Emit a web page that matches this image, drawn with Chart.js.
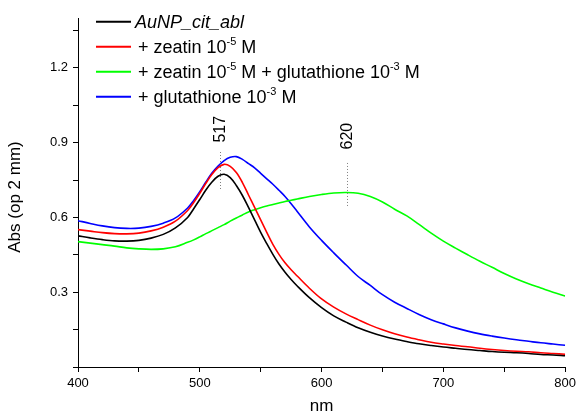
<!DOCTYPE html>
<html><head><meta charset="utf-8">
<script src="https://cdn.jsdelivr.net/npm/chart.js@4.4.0/dist/chart.umd.min.js"></script>
<style>html,body{margin:0;padding:0;background:#fff}canvas{display:block}</style>
</head><body>
<canvas id="c" width="580" height="417"></canvas>
<script>
const wavelengths = [400,410,420,430,440,450,460,470,480,490,495,500,505,510,515,520,525,530,535,540,545,550,555,560,565,570,575,580,590,600,610,620,630,640,650,660,670,680,690,700,710,720,730,740,750,760,770,780,790,800];
const ablSeries = [.526,.518,.511,.506,.505,.508,.517,.532,.558,.60,.635,.672,.71,.742,.765,.773,.76,.728,.688,.64,.59,.54,.495,.452,.413,.38,.351,.325,.278,.238,.205,.18,.157,.139,.124,.112,.102,.093,.086,.08,.075,.07,.066,.062,.059,.057,.054,.05,.048,.045];
const zeatinSeries = [.551,.545,.539,.535,.534,.537,.546,.561,.585,.628,.66,.697,.737,.773,.80,.813,.805,.78,.74,.69,.64,.59,.54,.492,.452,.418,.39,.365,.316,.273,.24,.213,.19,.168,.149,.133,.12,.109,.099,.092,.086,.081,.075,.07,.066,.063,.061,.057,.054,.051];
const zeatinGlutSeries = [.503,.497,.491,.485,.478,.474,.472,.474,.482,.50,.51,.522,.535,.547,.559,.571,.585,.598,.61,.622,.631,.639,.646,.652,.658,.664,.669,.674,.684,.692,.698,.70,.697,.684,.662,.633,.606,.572,.537,.505,.477,.45,.424,.40,.375,.353,.334,.317,.30,.285];
const glutSeries = [.587,.576,.566,.559,.556,.557,.564,.577,.598,.638,.668,.703,.742,.778,.806,.828,.841,.844,.833,.816,.799,.777,.755,.733,.709,.684,.655,.624,.562,.508,.458,.41,.363,.327,.29,.26,.235,.211,.19,.173,.157,.144,.133,.124,.116,.109,.103,.097,.092,.087];
const seriesColors = ['#000000','#ff0000','#00ff00','#0000ff'];
const xTickValues = [400,450,500,550,600,650,700,750,800];
const yTickValues = [0,0.15,0.3,0.45,0.6,0.75,0.9,1.05,1.2,1.35];
const peakNm = [517,621];
const peakText = ['517','620'];
const peakLineFrom = [0.714,0.646];
const peakLineTo = [0.866,0.822];
const peakLabelY = [0.954,0.926];
const yTitle = 'Abs (op 2 mm)';
const xTitle = 'nm';
const legendEntries = [
  [{t:'AuNP_cit_abl',italic:true}],
  [{t:'+ zeatin 10'},{t:'-5',sup:true},{t:' M'}],
  [{t:'+ zeatin 10'},{t:'-5',sup:true},{t:' M + glutathione 10'},{t:'-3',sup:true},{t:' M'}],
  [{t:'+ glutathione 10'},{t:'-3',sup:true},{t:' M'}]
];
const FONT = '"Liberation Sans", Arial, sans-serif';

function pts(arr){ return wavelengths.map((x,i)=>({x:x,y:arr[i]})); }

const annotPlugin = {
  id:'annot',
  afterDatasetsDraw(chart){
    const ctx = chart.ctx, xs = chart.scales.x, ys = chart.scales.y;
    ctx.save();
    ctx.save();
    ctx.translate(15, 197);
    ctx.rotate(-Math.PI/2);
    ctx.fillStyle='#000'; ctx.font='17px '+FONT; ctx.textAlign='center'; ctx.textBaseline='middle';
    ctx.fillText(yTitle,0,0);
    ctx.restore();
    for (let i=0;i<peakNm.length;i++){
      const px = Math.round(xs.getPixelForValue(peakNm[i]))+0.5;
      ctx.strokeStyle = '#808080'; ctx.lineWidth = 1; ctx.setLineDash([1,2]);
      ctx.beginPath();
      ctx.moveTo(px, ys.getPixelForValue(peakLineFrom[i]));
      ctx.lineTo(px, ys.getPixelForValue(peakLineTo[i]));
      ctx.stroke();
      ctx.setLineDash([]);
      ctx.save();
      ctx.translate(px, ys.getPixelForValue(peakLabelY[i]));
      ctx.rotate(-Math.PI/2);
      ctx.fillStyle = '#000'; ctx.font = '16px '+FONT;
      ctx.textAlign='center'; ctx.textBaseline='middle';
      ctx.fillText(peakText[i],0,0);
      ctx.restore();
    }
    const rowY = [21.7,46.7,71.7,96.7];
    for (let r=0;r<legendEntries.length;r++){
      const y = rowY[r];
      ctx.strokeStyle = seriesColors[r]; ctx.lineWidth = 2;
      ctx.beginPath(); ctx.moveTo(96,y); ctx.lineTo(131,y); ctx.stroke();
      let x = r===0 ? 135 : 138;
      ctx.fillStyle = '#000'; ctx.textAlign='left'; ctx.textBaseline='alphabetic';
      for (const seg of legendEntries[r]){
        if (seg.sup){
          ctx.font = '11px '+FONT;
          ctx.fillText(seg.t, x, y+6-8);
        } else {
          ctx.font = (seg.italic?'italic ':'')+'18px '+FONT;
          ctx.fillText(seg.t, x, y+6);
        }
        x += ctx.measureText(seg.t).width;
      }
    }
    ctx.restore();
  }
};

new Chart(document.getElementById('c'), {
  type:'line',
  data:{ datasets:[
    {label:'AuNP_cit_abl', data:pts(ablSeries), borderColor:seriesColors[0]},
    {label:'+ zeatin 10-5 M', data:pts(zeatinSeries), borderColor:seriesColors[1]},
    {label:'+ zeatin 10-5 M + glutathione 10-3 M', data:pts(zeatinGlutSeries), borderColor:seriesColors[2]},
    {label:'+ glutathione 10-3 M', data:pts(glutSeries), borderColor:seriesColors[3]}
  ]},
  options:{
    responsive:false, animation:false,
    elements:{ line:{borderWidth:1.6, tension:0.35, fill:false}, point:{radius:0} },
    layout:{ padding:{left:0, right:13, top:18, bottom:0} },
    plugins:{ legend:{display:false}, tooltip:{enabled:false} },
    scales:{
      x:{ type:'linear', min:400, max:800,
        afterBuildTicks(s){ s.ticks = xTickValues.map(v=>({value:v})); },
        afterFit(s){ s.height = 50; },
        grid:{ drawOnChartArea:false, drawTicks:true, tickLength:5, color:'#000', tickColor:'#000' },
        border:{ display:true, color:'#000', width:1 },
        ticks:{ color:'#000', font:{family:FONT, size:13}, padding:4, maxRotation:0, autoSkip:false,
          callback:v => (v%100===0 ? String(v) : '') },
        title:{ display:true, text:xTitle, color:'#000', font:{family:FONT, size:17}, padding:{top:0,bottom:0} }
      },
      y:{ type:'linear', min:0, max:1.4,
        afterBuildTicks(s){ s.ticks = yTickValues.map(v=>({value:v})); },
        afterFit(s){ s.width = 78; },
        grid:{ drawOnChartArea:false, drawTicks:true, tickLength:5, color:'#000', tickColor:'#000' },
        border:{ display:true, color:'#000', width:1 },
        ticks:{ color:'#000', font:{family:FONT, size:13}, padding:5, autoSkip:false,
          callback:v => (v>0.01 && Math.abs(v/0.3-Math.round(v/0.3))<1e-6 ? v.toFixed(1) : '') },
        title:{ display:false }
      }
    }
  },
  plugins:[annotPlugin]
});
</script>
</body></html>
